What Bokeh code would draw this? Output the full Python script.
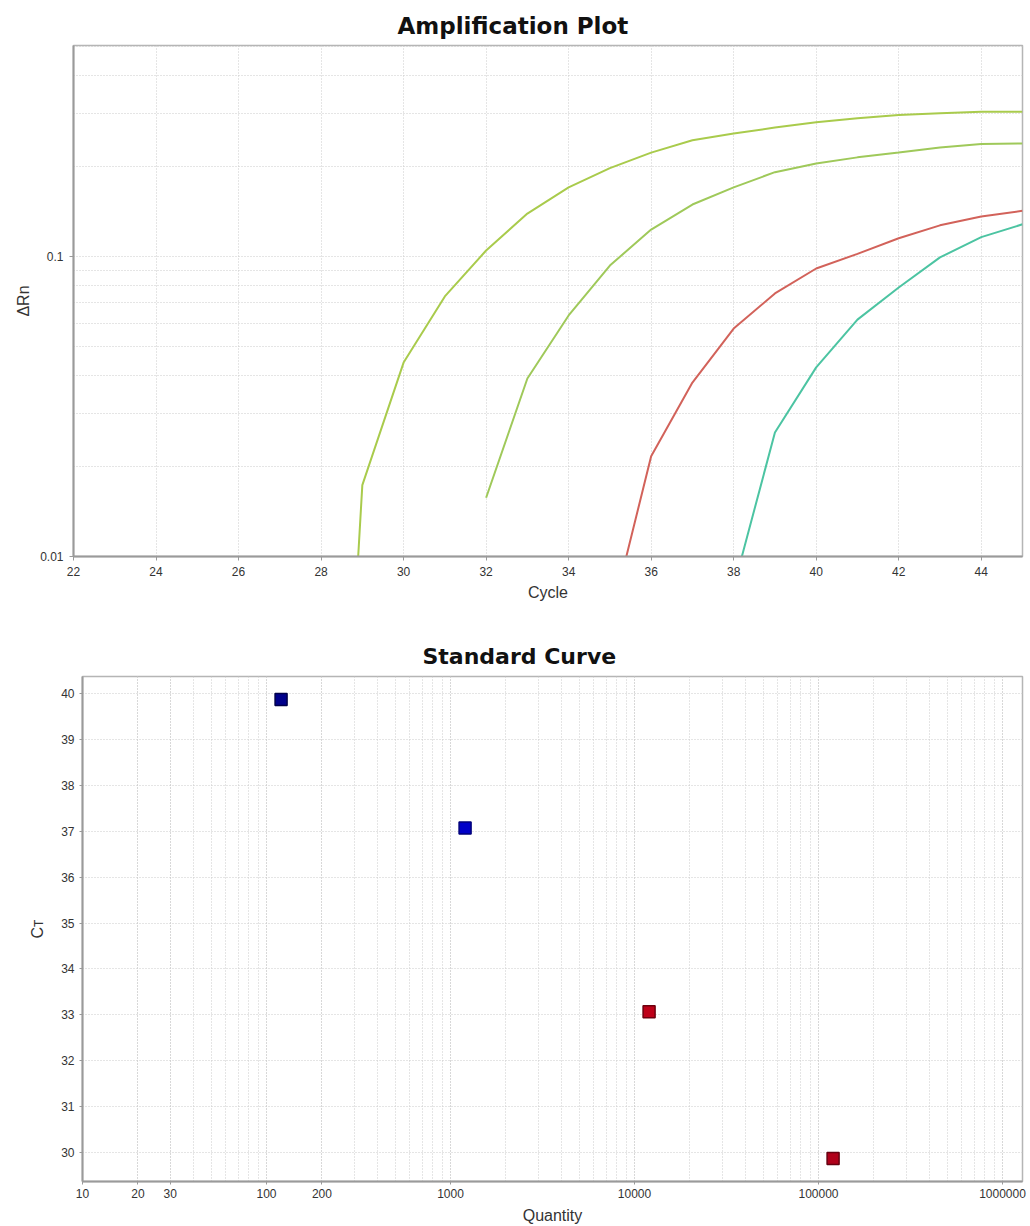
from bokeh.plotting import figure
from bokeh.models import FixedTicker, Range1d, ColumnDataSource, CustomJSTickFormatter
from bokeh.embed import file_html
from bokeh.resources import INLINE

# ---------------- Amplification plot data ----------------
cycles_s1 = [28, 29, 30, 31, 32, 33, 34, 35, 36, 37, 38, 39, 40, 41, 42, 43, 44, 45]
drn_s1 = [0.000074, 0.0173, 0.0443, 0.0736, 0.1047, 0.139, 0.170, 0.197, 0.222,
          0.244, 0.257, 0.269, 0.280, 0.289, 0.296, 0.300, 0.304, 0.304]

cycles_s2 = [32, 33, 34, 35, 36, 37, 38, 39, 40, 41, 42, 43, 44, 45]
drn_s2 = [0.0157, 0.0392, 0.0636, 0.0933, 0.123, 0.149, 0.170, 0.191, 0.204,
          0.214, 0.222, 0.231, 0.237, 0.238]

cycles_s3 = [35, 36, 37, 38, 39, 40, 41, 42, 43, 44, 45]
drn_s3 = [0.006, 0.0216, 0.038, 0.0575, 0.0753, 0.0912, 0.102, 0.115, 0.127, 0.136, 0.142]

cycles_s4 = [38, 39, 40, 41, 42, 43, 44, 45]
drn_s4 = [0.0079, 0.0259, 0.0427, 0.0616, 0.0788, 0.0993, 0.116, 0.128]

series_colors = ["#a9cb4c", "#9fc95a", "#d2625a", "#4cc4a2"]

amp_x_ticks = [22, 24, 26, 28, 30, 32, 34, 36, 38, 40, 42, 44]
amp_y_ticks = [0.01, 0.1]
amp_y_minor = [0.02, 0.03, 0.04, 0.05, 0.06, 0.07, 0.08, 0.09, 0.2, 0.3, 0.4, 0.5]

# ---------------- Standard curve data ----------------
quantity = [120, 1200, 12000, 120000]
ct = [39.87, 37.07, 33.07, 29.87]
pt_fill = ["#00008b", "#0000c8", "#be0018", "#b0001a"]
pt_line = ["#00004a", "#00007a", "#6e000e", "#660010"]

std_x_ticks = [10, 20, 30, 100, 200, 1000, 10000, 100000, 1000000]
std_x_minor = [k * 10 ** d for d in range(1, 6) for k in range(1, 10)] + [1000000]
std_y_ticks = list(range(30, 41))

GRID = "#cacaca"
GRID_DASH = "1 2"
TICKFONT = "Liberation Sans"


def style(p):
    p.background_fill_color = "white"
    p.border_fill_color = "white"
    p.outline_line_color = "#b5b5b5"
    p.outline_line_width = 1.5
    for ax in (p.xaxis[0], p.yaxis[0]):
        ax.axis_line_color = "#9a9a9a"
        ax.axis_line_width = 2
        ax.major_tick_line_color = "#9a9a9a"
        ax.minor_tick_line_color = None
        ax.major_tick_in = 0
        ax.major_label_text_font = TICKFONT
        ax.major_label_text_font_size = "12px"
        ax.major_label_text_color = "#333333"
        ax.axis_label_text_font = TICKFONT
        ax.axis_label_text_font_size = "16px"
        ax.axis_label_text_font_style = "normal"
        ax.axis_label_text_color = "#333333"
        ax.formatter = CustomJSTickFormatter(code="return tick.toString()")
    for g in (p.xgrid[0], p.ygrid[0]):
        g.grid_line_color = GRID
        g.grid_line_dash = GRID_DASH
        g.grid_line_width = 1
    p.title.align = "left"
    p.title.text_font = "DejaVu Sans"
    p.title.text_font_style = "bold"
    p.title.text_color = "#111111"


# ---------------- Figure 1 ----------------
p1 = figure(width=1030, height=606, x_range=Range1d(22, 45), y_range=Range1d(0.01, 0.505),
            y_axis_type="log", output_backend="svg", toolbar_location=None,
            title="Amplification Plot",
            min_border_left=73, min_border_right=8, min_border_top=45, min_border_bottom=50)
style(p1)
p1.title.text_font_size = "23px"
p1.title.offset = 324
p1.title.standoff = 14
p1.xaxis.ticker = FixedTicker(ticks=amp_x_ticks)
p1.yaxis.ticker = FixedTicker(ticks=amp_y_ticks, minor_ticks=amp_y_minor)
p1.ygrid.minor_grid_line_color = GRID
p1.ygrid.minor_grid_line_dash = GRID_DASH
p1.xaxis.axis_label = "Cycle"
p1.yaxis.axis_label = "ΔRn"
p1.xaxis.major_tick_out = 4
p1.yaxis.major_tick_out = 4
p1.xaxis.major_label_standoff = 6
p1.yaxis.major_label_standoff = 6
p1.xaxis.axis_label_standoff = 5
p1.yaxis.axis_label_standoff = 5

for xs, ys, c in zip([cycles_s1, cycles_s2, cycles_s3, cycles_s4],
                     [drn_s1, drn_s2, drn_s3, drn_s4], series_colors):
    p1.line(xs, ys, line_color=c, line_width=2)

# ---------------- Figure 2 ----------------
p2 = figure(width=1030, height=620, x_range=Range1d(10, 1284000), y_range=Range1d(29.37, 40.37),
            x_axis_type="log", output_backend="svg", toolbar_location=None,
            title="Standard Curve",
            min_border_left=82, min_border_right=8, min_border_top=70, min_border_bottom=44)
style(p2)
p2.title.text_font_size = "22px"
p2.title.offset = 340
p2.title.standoff = 16
p2.xaxis.ticker = FixedTicker(ticks=std_x_ticks, minor_ticks=std_x_minor)
p2.yaxis.ticker = FixedTicker(ticks=std_y_ticks)
p2.xgrid.minor_grid_line_color = GRID
p2.xgrid.minor_grid_line_dash = GRID_DASH
p2.xaxis.axis_label = "Quantity"
p2.yaxis.axis_label = "Cᴛ"
p2.xaxis.major_tick_out = 3
p2.yaxis.major_tick_out = 3
p2.xaxis.major_label_standoff = 3
p2.yaxis.major_label_standoff = 5
p2.xaxis.axis_label_standoff = 6
p2.yaxis.axis_label_standoff = 12

src = ColumnDataSource(dict(q=quantity, ct=ct, fill=pt_fill, line=pt_line))
p2.scatter("q", "ct", source=src, marker="square", size=12,
           fill_color="fill", line_color="line", line_width=1.5)

# two independent roots so each plot frame keeps its own left edge
open("out.html", "w").write(file_html([p1, p2], INLINE))
